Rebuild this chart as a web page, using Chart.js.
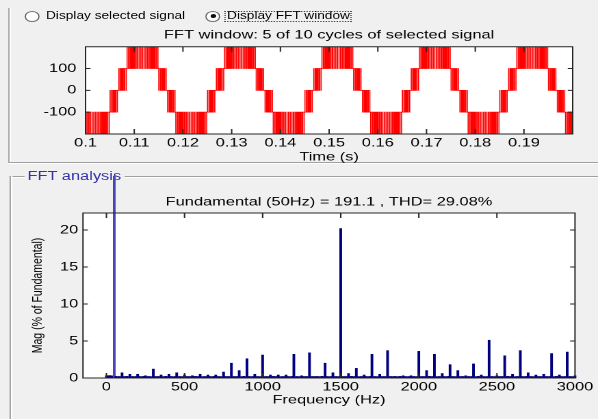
<!DOCTYPE html>
<html>
<head>
<meta charset="utf-8">
<title>FFT analysis</title>
<script src="https://cdn.jsdelivr.net/npm/chart.js@4.4.1/dist/chart.umd.min.js"></script>
<style>
  html, body { margin:0; padding:0; width:598px; height:419px; overflow:hidden; background:#f0f0f0; }
  #stage { position:absolute; left:0; top:0; width:437px; height:419px; transform:scaleX(1.3684); transform-origin:0 0; font-family:"Liberation Sans", Arial, sans-serif; color:#000; }
  .hline { position:absolute; height:0; border-top:1px solid #a0a0a0; border-bottom:1px solid #ffffff; }
  .vline { position:absolute; width:0; border-left:1px solid #a0a0a0; border-right:1px solid #ffffff; }
  .radio { position:absolute; width:9px; height:9px; border:1px solid #6e6e6e; border-radius:50%; background:#fff; }
  .dot { position:absolute; left:2.5px; top:2.5px; width:4px; height:4px; border-radius:50%; background:#111; }
  .rlabel { position:absolute; font-size:10px; line-height:12px; white-space:nowrap; }
  .focus { position:absolute; border:1px dotted #444; }
  #fftLabel { position:absolute; font-size:12px; line-height:14px; color:#3333aa; background:#f0f0f0; padding:0 2px; white-space:nowrap; }
  canvas { position:absolute; left:0; }
</style>
</head>
<body>
<div id="stage">
  <div class="vline" style="left:6.3px; top:8px; height:154px;"></div>
  <div class="hline" style="left:6.3px; top:162px; width:431px;"></div>
  <div class="radio" style="left:17.9px; top:10.5px;"></div>
  <div class="rlabel" style="left:33.6px; top:10px;">Display selected signal</div>
  <div class="radio" style="left:150.2px; top:10.5px;"><div class="dot"></div></div>
  <div class="focus" style="left:164.4px; top:11px; width:90.8px; height:9px;"></div>
  <div class="rlabel" style="left:165.9px; top:10px;">Display FFT window</div>
  <div class="hline" style="left:7.3px; top:176px; width:430px;"></div>
  <div class="vline" style="left:7.3px; top:176px; height:243px;"></div>
  <div id="fftLabel" style="left:18.1px; top:169px;">FFT analysis</div>
  <canvas id="sig" width="437" height="144" style="top:22px;"></canvas>
  <canvas id="fft" width="437" height="243" style="top:176px;"></canvas>
</div>
<script>
// ---------- tick labels ----------
const timeTicks = [0.1, 0.11, 0.12, 0.13, 0.14, 0.15, 0.16, 0.17, 0.18, 0.19];
const signalTicks = [-100, 0, 100];
const freqTicks = [0, 500, 1000, 1500, 2000, 2500, 3000];
const magTicks = [0, 5, 10, 15, 20];

// ---------- FFT window signal: switching instants (s) and the level reached at each ----------
const posLevels = [100,0,100,0,100,0,100,0,100,0,100,
  200,100,200,100,200,100,200,100,200,100,200,100,200,100,200,100,200,100,200,100,
  200,100,200,100,200,100,200,100,200,100,200,100,200,100,200,100,200,100,200,100,
  0,100,0,100,0,100,0,100,0,100,0];
const negLevels = [-100,0,-100,0,-100,0,-100,0,-100,0,-100,
  -200,-100,-200,-100,-200,-100,-200,-100,-200,-100,-200,-100,-200,-100,-200,-100,-200,-100,-200,-100,
  -200,-100,-200,-100,-200,-100,-200,-100,-200,-100,-200,-100,-200,-100,-200,-100,-200,-100,-200,-100,
  0,-100,0,-100,0,-100,0,-100,0,-100,0];

const waveStart = [[0.1,-100],[0.10008,-200],[0.10032,-100],[0.10040,-200],[0.10066,-100],[0.10073,-200],[0.10101,-100],[0.10105,-200],[0.10135,-100],[0.10138,-200],[0.10168,-100],[0.10172,-200],[0.10202,-100],[0.10205,-200],[0.10235,-100],[0.10239,-200],[0.10267,-100],[0.10274,-200],[0.10300,-100],[0.10308,-200],[0.10332,-100],[0.10343,-200],[0.10363,-100],[0.10379,-200],[0.10395,-100],[0.10414,-200],[0.10426,-100],[0.10450,-200],[0.10457,-100],[0.10486,-200],[0.10487,-100],[0.10503,0],[0.10506,-100],[0.10535,0],[0.10542,-100],[0.10565,0],[0.10578,-100],[0.10595,0],[0.10615,-100],[0.10625,0],[0.10652,-100],[0.10655,0]];

const pos1 = [0.10685,0.10688,0.10715,0.10725,0.10745,0.10762,0.10775,0.10798,0.10806,0.10835,0.10837,0.10853,0.10854,0.10883,0.10890,0.10914,0.10926,0.10945,0.10961,0.10977,0.10997,0.11008,0.11032,0.11040,0.11066,0.11073,0.11101,0.11105,0.11135,0.11138,0.11168,0.11172,0.11202,0.11205,0.11235,0.11239,0.11267,0.11274,0.11300,0.11308,0.11332,0.11343,0.11363,0.11379,0.11395,0.11414,0.11426,0.11450,0.11457,0.11486,0.11487,0.11503,0.11506,0.11535,0.11542,0.11565,0.11578,0.11595,0.11615,0.11625,0.11652,0.11655];
const neg1 = [0.11685,0.11688,0.11715,0.11725,0.11745,0.11762,0.11775,0.11798,0.11806,0.11835,0.11837,0.11853,0.11854,0.11883,0.11890,0.11914,0.11926,0.11945,0.11961,0.11977,0.11997,0.12008,0.12032,0.12040,0.12066,0.12073,0.12101,0.12105,0.12135,0.12138,0.12168,0.12172,0.12202,0.12205,0.12235,0.12239,0.12267,0.12274,0.12300,0.12308,0.12332,0.12343,0.12363,0.12379,0.12395,0.12414,0.12426,0.12450,0.12457,0.12486,0.12487,0.12503,0.12506,0.12535,0.12542,0.12565,0.12578,0.12595,0.12615,0.12625,0.12652,0.12655];
const pos2 = [0.12685,0.12688,0.12715,0.12725,0.12745,0.12762,0.12775,0.12798,0.12806,0.12835,0.12837,0.12853,0.12854,0.12883,0.12890,0.12914,0.12926,0.12945,0.12961,0.12977,0.12997,0.13008,0.13032,0.13040,0.13066,0.13073,0.13101,0.13105,0.13135,0.13138,0.13168,0.13172,0.13202,0.13205,0.13235,0.13239,0.13267,0.13274,0.13300,0.13308,0.13332,0.13343,0.13363,0.13379,0.13395,0.13414,0.13426,0.13450,0.13457,0.13486,0.13487,0.13503,0.13506,0.13535,0.13542,0.13565,0.13578,0.13595,0.13615,0.13625,0.13652,0.13655];
const neg2 = [0.13685,0.13688,0.13715,0.13725,0.13745,0.13762,0.13775,0.13798,0.13806,0.13835,0.13837,0.13853,0.13854,0.13883,0.13890,0.13914,0.13926,0.13945,0.13961,0.13977,0.13997,0.14008,0.14032,0.14040,0.14066,0.14073,0.14101,0.14105,0.14135,0.14138,0.14168,0.14172,0.14202,0.14205,0.14235,0.14239,0.14267,0.14274,0.14300,0.14308,0.14332,0.14343,0.14363,0.14379,0.14395,0.14414,0.14426,0.14450,0.14457,0.14486,0.14487,0.14503,0.14506,0.14535,0.14542,0.14565,0.14578,0.14595,0.14615,0.14625,0.14652,0.14655];
const pos3 = [0.14685,0.14688,0.14715,0.14725,0.14745,0.14762,0.14775,0.14798,0.14806,0.14835,0.14837,0.14853,0.14854,0.14883,0.14890,0.14914,0.14926,0.14945,0.14961,0.14977,0.14997,0.15008,0.15032,0.15040,0.15066,0.15073,0.15101,0.15105,0.15135,0.15138,0.15168,0.15172,0.15202,0.15205,0.15235,0.15239,0.15267,0.15274,0.15300,0.15308,0.15332,0.15343,0.15363,0.15379,0.15395,0.15414,0.15426,0.15450,0.15457,0.15486,0.15487,0.15503,0.15506,0.15535,0.15542,0.15565,0.15578,0.15595,0.15615,0.15625,0.15652,0.15655];
const neg3 = [0.15685,0.15688,0.15715,0.15725,0.15745,0.15762,0.15775,0.15798,0.15806,0.15835,0.15837,0.15853,0.15854,0.15883,0.15890,0.15914,0.15926,0.15945,0.15961,0.15977,0.15997,0.16008,0.16032,0.16040,0.16066,0.16073,0.16101,0.16105,0.16135,0.16138,0.16168,0.16172,0.16202,0.16205,0.16235,0.16239,0.16267,0.16274,0.16300,0.16308,0.16332,0.16343,0.16363,0.16379,0.16395,0.16414,0.16426,0.16450,0.16457,0.16486,0.16487,0.16503,0.16506,0.16535,0.16542,0.16565,0.16578,0.16595,0.16615,0.16625,0.16652,0.16655];
const pos4 = [0.16685,0.16688,0.16715,0.16725,0.16745,0.16762,0.16775,0.16798,0.16806,0.16835,0.16837,0.16853,0.16854,0.16883,0.16890,0.16914,0.16926,0.16945,0.16961,0.16977,0.16997,0.17008,0.17032,0.17040,0.17066,0.17073,0.17101,0.17105,0.17135,0.17138,0.17168,0.17172,0.17202,0.17205,0.17235,0.17239,0.17267,0.17274,0.17300,0.17308,0.17332,0.17343,0.17363,0.17379,0.17395,0.17414,0.17426,0.17450,0.17457,0.17486,0.17487,0.17503,0.17506,0.17535,0.17542,0.17565,0.17578,0.17595,0.17615,0.17625,0.17652,0.17655];
const neg4 = [0.17685,0.17688,0.17715,0.17725,0.17745,0.17762,0.17775,0.17798,0.17806,0.17835,0.17837,0.17853,0.17854,0.17883,0.17890,0.17914,0.17926,0.17945,0.17961,0.17977,0.17997,0.18008,0.18032,0.18040,0.18066,0.18073,0.18101,0.18105,0.18135,0.18138,0.18168,0.18172,0.18202,0.18205,0.18235,0.18239,0.18267,0.18274,0.18300,0.18308,0.18332,0.18343,0.18363,0.18379,0.18395,0.18414,0.18426,0.18450,0.18457,0.18486,0.18487,0.18503,0.18506,0.18535,0.18542,0.18565,0.18578,0.18595,0.18615,0.18625,0.18652,0.18655];
const pos5 = [0.18685,0.18688,0.18715,0.18725,0.18745,0.18762,0.18775,0.18798,0.18806,0.18835,0.18837,0.18853,0.18854,0.18883,0.18890,0.18914,0.18926,0.18945,0.18961,0.18977,0.18997,0.19008,0.19032,0.19040,0.19066,0.19073,0.19101,0.19105,0.19135,0.19138,0.19168,0.19172,0.19202,0.19205,0.19235,0.19239,0.19267,0.19274,0.19300,0.19308,0.19332,0.19343,0.19363,0.19379,0.19395,0.19414,0.19426,0.19450,0.19457,0.19486,0.19487,0.19503,0.19506,0.19535,0.19542,0.19565,0.19578,0.19595,0.19615,0.19625,0.19652,0.19655];
const waveEnd = [[0.19685,-100],[0.19688,0],[0.19715,-100],[0.19725,0],[0.19745,-100],[0.19762,0],[0.19775,-100],[0.19798,0],[0.19806,-100],[0.19835,0],[0.19837,-100],[0.19853,-200],[0.19854,-100],[0.19883,-200],[0.19890,-100],[0.19914,-200],[0.19926,-100],[0.19945,-200],[0.19961,-100],[0.19977,-200],[0.19997,-100],[0.2,-100]];

// ---------- FFT magnitude (% of fundamental), one value per 10 Hz bin, 0..3000 Hz ----------
const binHz = 10;
const magnitude = [
  0.30,0.30,0.32,0.30,0.28,   100,0.22,0.18,0.20,0.18,   0.70,0.20,0.18,0.22,0.18,   0.50,0.18,0.20,0.18,0.20,
  0.50,0.20,0.18,0.18,0.22,   0.30,0.18,0.20,0.18,0.18,   1.20,0.20,0.18,0.20,0.18,   0.40,0.18,0.18,0.22,0.18,
  0.50,0.20,0.18,0.18,0.20,   0.70,0.18,0.20,0.18,0.18,   0.40,0.20,0.18,0.20,0.18,   0.30,0.18,0.22,0.18,0.20,
  0.50,0.18,0.18,0.20,0.18,   0.40,0.20,0.18,0.18,0.22,   0.40,0.18,0.20,0.18,0.18,   0.80,0.20,0.18,0.20,0.18,
  2.00,0.18,0.20,0.18,0.20,   1.00,0.18,0.18,0.22,0.18,   2.60,0.20,0.18,0.18,0.20,   0.50,0.18,0.20,0.18,0.18,
  3.10,0.20,0.18,0.20,0.18,   0.40,0.18,0.22,0.18,0.20,   0.40,0.18,0.18,0.20,0.18,   0.40,0.20,0.18,0.18,0.22,
  3.20,0.18,0.20,0.18,0.18,   0.30,0.20,0.18,0.20,0.18,   3.40,0.18,0.20,0.18,0.20,   0.20,0.18,0.18,0.22,0.18,
  2.00,0.20,0.18,0.18,0.20,   0.70,0.18,0.20,0.18,0.18,   20.20,0.20,0.18,0.20,0.18,  0.60,0.18,0.22,0.18,0.20,
  1.30,0.18,0.18,0.20,0.18,   0.40,0.20,0.18,0.18,0.22,   3.20,0.18,0.20,0.18,0.18,   0.50,0.20,0.18,0.20,0.18,
  3.70,0.18,0.20,0.18,0.20,   0.20,0.18,0.18,0.22,0.18,   0.30,0.20,0.18,0.18,0.20,   0.30,0.18,0.20,0.18,0.18,
  3.60,0.20,0.18,0.20,0.18,   1.00,0.18,0.22,0.18,0.20,   3.20,0.18,0.18,0.20,0.18,   0.60,0.20,0.18,0.18,0.22,
  1.80,0.18,0.20,0.18,0.18,   1.00,0.20,0.18,0.20,0.18,   0.30,0.18,0.20,0.18,0.20,   1.90,0.18,0.18,0.22,0.18,
  0.40,0.20,0.18,0.18,0.20,   5.10,0.18,0.20,0.18,0.18,   0.30,0.20,0.18,0.20,0.18,   3.00,0.18,0.22,0.18,0.20,
  0.50,0.18,0.18,0.20,0.18,   3.70,0.20,0.18,0.18,0.22,   0.70,0.18,0.20,0.18,0.18,   0.40,0.20,0.18,0.20,0.18,
  0.50,0.18,0.20,0.18,0.20,   3.30,0.18,0.18,0.22,0.18,   0.40,0.20,0.18,0.18,0.20,   3.50,0.18,0.20,0.18,0.18,
  0.30
];

const FONT = '"Liberation Sans", Arial, Helvetica, sans-serif';
const f12 = { family: FONT, size: 12, weight: 'normal' };
const fYTitle = { family: FONT, size: 10.5, weight: 'normal' };

function matlabAxes(xTickLen, yTickLen) {
  return {
    id: 'matlabAxes',
    beforeDraw(chart) {
      const { ctx, chartArea: a } = chart;
      ctx.save();
      ctx.fillStyle = '#ffffff';
      ctx.fillRect(a.left, a.top, a.right - a.left, a.bottom - a.top);
      ctx.restore();
    },
    afterDatasetsDraw(chart) {
      const { ctx, chartArea: a, scales } = chart;
      ctx.save();
      ctx.strokeStyle = '#262626';
      ctx.lineWidth = 1;
      ctx.beginPath();
      scales.x.ticks.forEach(t => {
        const px = scales.x.getPixelForValue(t.value);
        ctx.moveTo(px, a.bottom); ctx.lineTo(px, a.bottom - xTickLen);
        ctx.moveTo(px, a.top); ctx.lineTo(px, a.top + xTickLen);
      });
      scales.y.ticks.forEach(t => {
        const py = scales.y.getPixelForValue(t.value);
        ctx.moveTo(a.left, py); ctx.lineTo(a.left + yTickLen, py);
        ctx.moveTo(a.right, py); ctx.lineTo(a.right - yTickLen, py);
      });
      ctx.rect(a.left, a.top, a.right - a.left, a.bottom - a.top);
      ctx.stroke();
      ctx.restore();
    }
  };
}

const halfCycles = [
  [pos1, posLevels], [neg1, negLevels], [pos2, posLevels], [neg2, negLevels], [pos3, posLevels],
  [neg3, negLevels], [pos4, posLevels], [neg4, negLevels], [pos5, posLevels]
];
const waveform = waveStart
  .concat(...halfCycles.map(([times, levels]) => times.map((t, i) => [t, levels[i]])))
  .concat(waveEnd);

new Chart(document.getElementById('sig'), {
  type: 'line',
  data: {
    datasets: [{
      data: waveform.map(([t, v]) => ({ x: t, y: v })),
      borderColor: '#ff0000',
      borderWidth: 0.75,
      pointRadius: 0,
      stepped: true,
      fill: false
    }]
  },
  options: {
    responsive: false,
    animation: false,
    devicePixelRatio: 2,
    layout: { padding: { left: 0, right: 18.5, top: 0, bottom: 0 } },
    plugins: {
      legend: { display: false },
      tooltip: { enabled: false },
      title: {
        display: true, fullSize: false,
        text: 'FFT window: 5 of 10 cycles of selected signal',
        color: '#000', font: f12, padding: { top: 5.8, bottom: 4.5 }
      }
    },
    scales: {
      x: {
        type: 'linear', min: 0.1, max: 0.2,
        grid: { display: false, drawTicks: false }, border: { display: false },
        afterBuildTicks: s => { s.ticks = timeTicks.map(v => ({ value: v })); },
        ticks: { color: '#000', font: f12, padding: 1.8, maxRotation: 0, autoSkip: false, callback: v => String(v) },
        title: { display: true, text: 'Time (s)', color: '#000', font: f12, padding: { top: 0, bottom: 1.8 } },
        afterFit: s => { s.height = 32; }
      },
      y: {
        min: -200, max: 200,
        grid: { display: false, drawTicks: false }, border: { display: false },
        afterBuildTicks: s => { s.ticks = signalTicks.map(v => ({ value: v })); },
        ticks: { color: '#000', font: f12, padding: 6.7, callback: v => String(v) },
        afterFit: s => { s.width = 62.5; }
      }
    }
  },
  plugins: [matlabAxes(5, 3.6)]
});

new Chart(document.getElementById('fft'), {
  type: 'bar',
  data: {
    datasets: [{
      data: magnitude.map((v, i) => ({ x: i * binHz, y: v })),
      backgroundColor: c => (c.raw && c.raw.y > 50 ? '#4646b4' : '#00007f'),
      borderWidth: 0,
      barThickness: 1.3,
      clip: false
    }]
  },
  options: {
    responsive: false,
    animation: false,
    devicePixelRatio: 2,
    layout: { padding: { left: 0, right: 16.8, top: 0, bottom: 0 } },
    plugins: {
      legend: { display: false },
      tooltip: { enabled: false },
      title: {
        display: true, fullSize: false,
        text: 'Fundamental (50Hz) = 191.1 , THD= 29.08%',
        color: '#000', font: f12, padding: { top: 18.8, bottom: 3.8 }
      }
    },
    scales: {
      x: {
        type: 'linear', min: -150, max: 3000, offset: false,
        grid: { display: false, drawTicks: false }, border: { display: false },
        afterBuildTicks: s => { s.ticks = freqTicks.map(v => ({ value: v })); },
        ticks: { color: '#000', font: f12, padding: 1.8, maxRotation: 0, autoSkip: false, callback: v => String(v) },
        title: { display: true, text: 'Frequency (Hz)', color: '#000', font: f12, padding: { top: 0, bottom: 11.8 } },
        afterFit: s => { s.height = 41; }
      },
      y: {
        min: 0, max: 22.3,
        grid: { display: false, drawTicks: false }, border: { display: false },
        afterBuildTicks: s => { s.ticks = magTicks.map(v => ({ value: v })); },
        ticks: { color: '#000', font: f12, padding: 3.5, callback: v => String(v) },
        title: { display: true, text: 'Mag (% of Fundamental)', color: '#000', font: fYTitle, padding: { top: 21.5, bottom: 0 } },
        afterFit: s => { s.width = 60.65; }
      }
    }
  },
  plugins: [matlabAxes(5, 3.6)]
});
</script>
</body>
</html>
